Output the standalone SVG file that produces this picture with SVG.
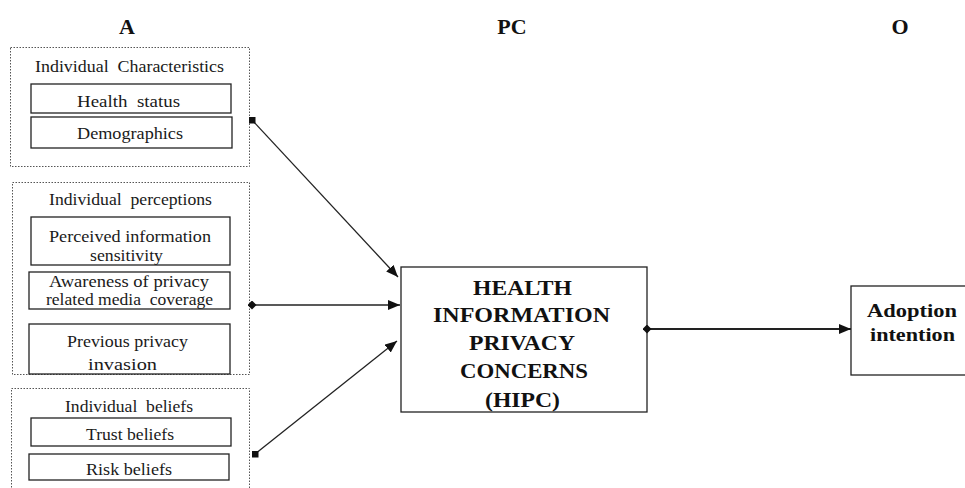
<svg xmlns="http://www.w3.org/2000/svg" width="965" height="488" viewBox="0 0 965 488">
<style>
.t{font-family:"Liberation Serif","Times New Roman",serif;font-size:17px;fill:#1a1a1a;text-anchor:middle}
.b{font-family:"Liberation Serif","Times New Roman",serif;font-weight:bold;fill:#111;text-anchor:middle}
.dot{fill:none;stroke:#555;stroke-width:1;stroke-dasharray:1.5 1.5}
.box{fill:#fff;stroke:#222;stroke-width:1.3}
.con{stroke:#222;stroke-width:1.3;fill:none}
</style>
<defs>
<marker id="arr" markerUnits="userSpaceOnUse" markerWidth="14" markerHeight="12" refX="12" refY="5" orient="auto">
<path d="M0,0 L12,5 L0,10 Z" fill="#111"/>
</marker>
<marker id="sq" markerUnits="userSpaceOnUse" markerWidth="8" markerHeight="8" refX="3.5" refY="3.5" orient="0">
<rect x="0" y="0" width="7" height="7" fill="#111"/>
</marker>
<marker id="dia" markerUnits="userSpaceOnUse" markerWidth="10" markerHeight="10" refX="4.5" refY="4.5" orient="0">
<path d="M0,4.5 L4.5,0 L9,4.5 L4.5,9 Z" fill="#111"/>
</marker>
</defs>
<rect width="965" height="488" fill="#fff"/>

<g id="headers">
<text class="b" x="127" y="34" font-size="22">A</text>
<text class="b" x="512" y="34" font-size="22">PC</text>
<text class="b" x="900" y="34" font-size="22">O</text>
</g>

<g id="individual-characteristics">
<rect class="dot" x="10.5" y="47.5" width="239" height="119"/>
<text class="t" x="129.5" y="72" textLength="189" lengthAdjust="spacingAndGlyphs">Individual&#160; Characteristics</text>
<rect class="box" x="31" y="84" width="200" height="29"/>
<text class="t" x="128.5" y="107" textLength="103" lengthAdjust="spacingAndGlyphs">Health&#160; status</text>
<rect class="box" x="31" y="117" width="201" height="31"/>
<text class="t" x="130" y="139" textLength="106" lengthAdjust="spacingAndGlyphs">Demographics</text>
</g>

<g id="individual-perceptions">
<rect class="dot" x="12.5" y="182.5" width="237" height="192"/>
<text class="t" x="130.5" y="205" textLength="163" lengthAdjust="spacingAndGlyphs">Individual&#160; perceptions</text>
<rect class="box" x="31" y="217" width="199" height="48"/>
<text class="t" x="130" y="242" textLength="162" lengthAdjust="spacingAndGlyphs">Perceived information</text>
<text class="t" x="126.5" y="261" textLength="73" lengthAdjust="spacingAndGlyphs">sensitivity</text>
<rect class="box" x="29" y="272" width="201" height="37"/>
<text class="t" x="129" y="287" font-size="16" textLength="160" lengthAdjust="spacingAndGlyphs">Awareness of privacy</text>
<text class="t" x="129.5" y="305" font-size="16" textLength="167" lengthAdjust="spacingAndGlyphs">related media&#160; coverage</text>
<rect class="box" x="29" y="324" width="201" height="50"/>
<text class="t" x="127.5" y="347" textLength="121" lengthAdjust="spacingAndGlyphs">Previous privacy</text>
<text class="t" x="122.5" y="370" textLength="69" lengthAdjust="spacingAndGlyphs">invasion</text>
</g>

<g id="individual-beliefs">
<rect class="dot" x="11.5" y="388.5" width="238" height="110"/>
<text class="t" x="129" y="412" textLength="128" lengthAdjust="spacingAndGlyphs">Individual&#160; beliefs</text>
<rect class="box" x="31" y="418" width="200" height="28"/>
<text class="t" x="130" y="440" textLength="88" lengthAdjust="spacingAndGlyphs">Trust beliefs</text>
<rect class="box" x="29" y="454" width="200" height="26"/>
<text class="t" x="129" y="475" textLength="86" lengthAdjust="spacingAndGlyphs">Risk beliefs</text>
</g>

<g id="hipc">
<rect class="box" x="401" y="267" width="246" height="145"/>
<text class="b" x="522.5" y="295" font-size="20" textLength="99" lengthAdjust="spacingAndGlyphs">HEALTH</text>
<text class="b" x="521.5" y="322" font-size="20" textLength="177" lengthAdjust="spacingAndGlyphs">INFORMATION</text>
<text class="b" x="522" y="350" font-size="20" textLength="106" lengthAdjust="spacingAndGlyphs">PRIVACY</text>
<text class="b" x="524" y="378" font-size="20" textLength="128" lengthAdjust="spacingAndGlyphs">CONCERNS</text>
<text class="b" x="522.5" y="407" font-size="20" textLength="75" lengthAdjust="spacingAndGlyphs">(HIPC)</text>
</g>

<g id="adoption-intention">
<rect class="box" x="851" y="286" width="130" height="89"/>
<text class="b" x="912" y="317" font-size="18" textLength="90" lengthAdjust="spacingAndGlyphs">Adoption</text>
<text class="b" x="912.5" y="341" font-size="18" textLength="85" lengthAdjust="spacingAndGlyphs">intention</text>
</g>

<g id="connectors">
<line class="con" x1="252" y1="120" x2="398" y2="277" marker-start="url(#sq)" marker-end="url(#arr)"/>
<line class="con" x1="252" y1="305" x2="400" y2="305" marker-start="url(#dia)" marker-end="url(#arr)"/>
<line class="con" x1="255" y1="454" x2="397" y2="341" marker-start="url(#sq)" marker-end="url(#arr)"/>
<line class="con" x1="647" y1="329" x2="851" y2="329" style="stroke-width:2.2" marker-start="url(#dia)" marker-end="url(#arr)"/>
</g>
</svg>
